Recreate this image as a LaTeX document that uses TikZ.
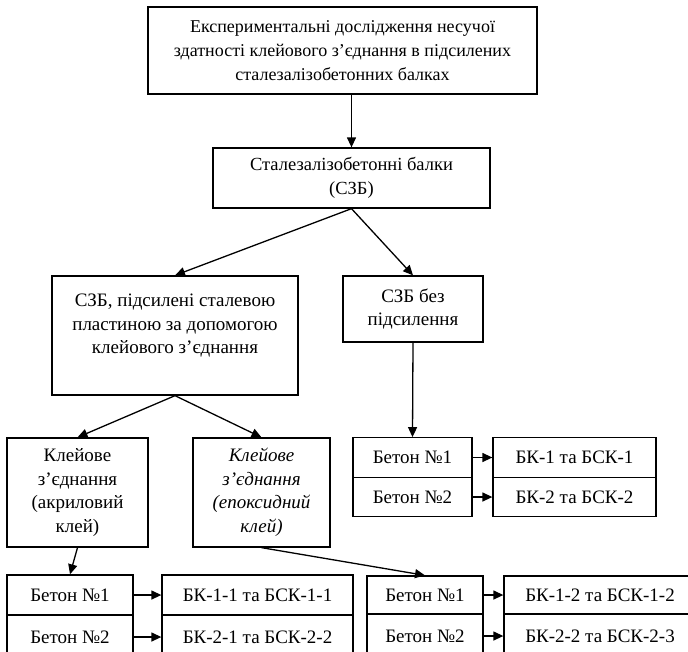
\documentclass[tikz,border=0pt]{standalone}
\usepackage{fontspec}
\setmainfont{Liberation Serif}
\usetikzlibrary{arrows.meta,positioning}

\begin{document}
\begin{tikzpicture}[x=1pt,y=-1pt,
every node/.style={draw,line width=1.3pt,align=center,inner sep=0pt,
font=\fontsize{19}{23.5}\selectfont},
arr/.style={line width=1.3pt,-{Triangle[length=10pt,width=9pt]}}]
\clip (0,0) rectangle (688,651);
\node[minimum width=389,minimum height=87,font=\fontsize{18}{24}\selectfont] (A1) at (342.5,50.5)
  {Експериментальні дослідження несучої\\здатності клейового з’єднання в підсилених\\сталезалізобетонних балках};
\node[minimum width=277,minimum height=60,font=\fontsize{18.5}{23.5}\selectfont] (A2) at (351.5,178)
  {Сталезалізобетонні балки\\(СЗБ)};
\node[minimum width=246,minimum height=119] (A3) at (175,335.5)
  {СЗБ, підсилені сталевою\\пластиною за допомогою\\клейового з’єднання\\\mbox{}};
\node[minimum width=140,minimum height=66] (A4) at (413,309)
  {СЗБ без\\підсилення};
\node[minimum width=141,minimum height=109] (A5) at (77.5,492.5)
  {Клейове\\з’єднання\\(акриловий\\клей)};
\node[minimum width=137,minimum height=109,font=\fontsize{19}{23.5}\selectfont\itshape] (A6) at (261.5,492.5)
  {Клейове\\з’єднання\\(епоксидний\\клей)};
% без підсилення
\node[minimum width=119,minimum height=39.5] (D1) at (412.5,457.5) {Бетон №1};
\node[minimum width=119,minimum height=39.5] (D2) at (412.5,497) {Бетон №2};
\node[minimum width=163,minimum height=39.5] (E1) at (574.5,457.5) {БК-1 та БСК-1};
\node[minimum width=163,minimum height=39.5] (E2) at (574.5,497) {БК-2 та БСК-2};
% акриловий клей
\node[minimum width=126,minimum height=40] (B1) at (70,595) {Бетон №1};
\node[minimum width=126,minimum height=44] (B2) at (70,637) {Бетон №2};
\node[minimum width=191,minimum height=40] (B3) at (257.5,595) {БК-1-1 та БСК-1-1};
\node[minimum width=191,minimum height=44] (B4) at (257.5,637) {БК-2-1 та БСК-2-2};
% епоксидний клей
\node[minimum width=116,minimum height=38] (C1) at (425,595) {Бетон №1};
\node[minimum width=116,minimum height=44] (C2) at (425,636) {Бетон №2};
\node[minimum width=192,minimum height=38] (C3) at (600,595) {БК-1-2 та БСК-1-2};
\node[minimum width=192,minimum height=44] (C4) at (600,636) {БК-2-2 та БСК-2-3};
\draw[arr] (A2|-A1.south)--(A2.north);
\draw[arr] (A2.south)--(A3.north);
\draw[arr] (A2.south)--(A4.north);
\draw[arr] (A3.south)--(A5.north);
\draw[arr] (A3.south)--(A6.north);
\draw[arr] (A4.south)--(D1.north);
\draw[arr] (A5.south)--(B1.north);
\draw[arr] (A6.south)--(C1.north);
\draw[arr] (D1)--(E1);
\draw[arr] (D2)--(E2);
\draw[arr] (B1)--(B3);
\draw[arr] (B2)--(B4);
\draw[arr] (C1)--(C3);
\draw[arr] (C2)--(C4);
\end{tikzpicture}
\end{document}
